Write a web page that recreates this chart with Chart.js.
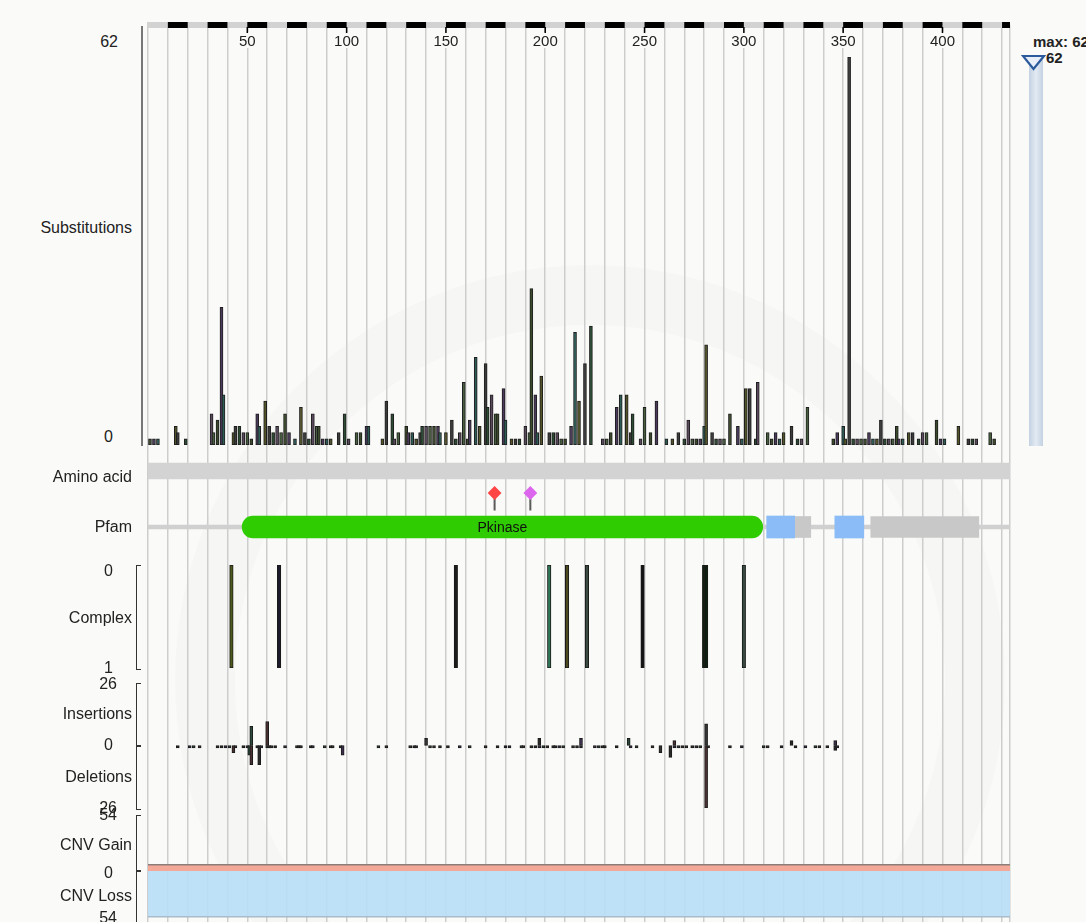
<!DOCTYPE html>
<html lang="en">
<head>
<meta charset="UTF-8">
<title>Mutation distribution</title>
<script src="https://cdn.jsdelivr.net/npm/chart.js"></script>
<style>
    body { margin: 0; width: 1086px; height: 922px; overflow: hidden; position: relative;
           background: #fafaf8; font-family: "Liberation Sans", Arial, sans-serif; color: #222; }
    canvas, .lbl, .brk, .tick, .slider, .maxlbl, .mark { position: absolute; }
    .lbl { width: 140px; text-align: right; font-size: 16px; line-height: 16px; white-space: nowrap; }
    .brk { border: 1.5px solid #333; border-right: none; width: 4px; }
    .tick { height: 1.5px; width: 5px; background: #333; }
    .slider { left: 1029px; top: 60px; width: 14px; height: 386px;
              background: linear-gradient(to right, #c3d1e1, #e2eaf3 50%, #c3d1e1); }
    .maxlbl { font-size: 15px; font-weight: bold; white-space: nowrap; line-height: 17px; }
    .mark { left: 175px; top: 265px; width: 710px; height: 710px; border-radius: 50%;
            border: 60px solid rgba(0,0,0,0.016); }
</style>
</head>
<body>
<div class="mark"></div>
<div class="slider"></div>
<svg style="position:absolute;left:1021px;top:54px" width="26" height="18">
    <polygon points="2,2 23,2 12.5,15" fill="#e8eff8" stroke="#2b5b9c" stroke-width="2.2"/>
</svg>
<div class="maxlbl" style="left:1033px;top:33px">max: 62</div>
<div class="maxlbl" style="left:1046px;top:49px">62</div>

<script>
// protein length (residues) and ruler labels
const PROTEIN_LENGTH = 434;
const rulerTicks = [50, 100, 150, 200, 250, 300, 350, 400];

// substitutions per residue
const subPos = [
    1, 3, 5, 14, 15, 19, 32, 33, 35, 37,
    38, 43, 44, 46, 48, 50, 52, 55, 56, 59,
    61, 63, 65, 67, 69, 71, 74, 77, 79, 81,
    83, 85, 86, 88, 90, 92, 96, 99, 101, 105,
    107, 110, 111, 118, 120, 123, 124, 126, 130, 131,
    133, 135, 137, 138, 140, 142, 144, 146, 147, 150,
    153, 155, 157, 159, 161, 162, 165, 167, 170, 171,
    173, 175, 176, 179, 180, 183, 185, 187, 190, 192,
    193, 195, 196, 198, 202, 204, 206, 208, 210, 213,
    215, 217, 220, 223, 229, 231, 233, 236, 238, 241,
    243, 244, 248, 250, 253, 256, 261, 264, 267, 270,
    272, 274, 276, 278, 280, 281, 284, 286, 288, 290,
    293, 297, 299, 301, 303, 306, 307, 312, 314, 316,
    318, 320, 324, 327, 329, 332, 345, 347, 350, 351,
    353, 355, 357, 359, 361, 363, 365, 367, 369, 371,
    373, 375, 377, 378, 380, 383, 385, 388, 390, 392,
    397, 399, 401, 408, 413, 415, 417, 424, 426
];
const subCount = [
    1, 1, 1, 3, 2, 1, 5, 2, 4, 22,
    8, 2, 3, 3, 2, 2, 1, 5, 3, 7,
    3, 2, 3, 2, 5, 2, 1, 6, 2, 1,
    5, 3, 3, 1, 1, 1, 2, 5, 1, 2,
    2, 3, 3, 1, 7, 5, 1, 2, 3, 2,
    2, 1, 2, 3, 3, 3, 3, 3, 2, 2,
    4, 1, 2, 10, 1, 4, 14, 3, 13, 6,
    8, 5, 5, 9, 4, 1, 1, 1, 3, 2,
    25, 8, 2, 11, 2, 2, 2, 1, 1, 3,
    18, 7, 13, 19, 1, 1, 2, 6, 8, 8,
    2, 5, 1, 6, 2, 7, 1, 1, 2, 1,
    4, 1, 1, 1, 3, 16, 2, 1, 1, 1,
    5, 3, 1, 9, 9, 1, 10, 2, 1, 2,
    1, 2, 3, 1, 1, 6, 1, 2, 3, 1,
    62, 1, 1, 1, 1, 2, 1, 1, 4, 1,
    1, 1, 3, 1, 1, 2, 2, 1, 2, 2,
    4, 1, 1, 3, 1, 1, 1, 2, 1
];
const SUB_MAX = 62;

// complex mutations
const complexPos = [42, 66, 155, 202, 211, 221, 249, 280, 281, 300];

// insertions / deletions
const indelPos = [
    15, 21, 23, 26, 35, 37, 39, 41, 43, 44,
    48, 50, 51, 52, 55, 56, 57, 60, 61, 62,
    64, 69, 75, 76, 77, 82, 83, 89, 92, 93,
    97, 98, 116, 120, 132, 134, 135, 140, 142, 144,
    147, 151, 157, 162, 170, 176, 180, 182, 188, 189,
    193, 195, 197, 199, 201, 204, 205, 207, 209, 214,
    216, 218, 225, 227, 229, 230, 236, 242, 243, 246,
    254, 258, 263, 265, 267, 269, 271, 274, 276, 278,
    281, 282, 293, 299, 310, 312, 319, 324, 326, 331,
    336, 338, 342, 346, 347
];
const insCount = [
    0, 0, 0, 0, 0, 0, 0, 0, 0, 0,
    0, 0, 0, 8, 0, 0, 0, 10, 0, 0,
    0, 0, 0, 0, 0, 0, 0, 0, 0, 0,
    0, 0, 0, 0, 0, 0, 0, 3, 0, 0,
    0, 0, 0, 0, 0, 0, 0, 0, 0, 0,
    0, 0, 3, 0, 0, 0, 0, 0, 0, 0,
    0, 3, 0, 0, 0, 0, 0, 3, 0, 0,
    0, 0, 0, 2, 0, 0, 0, 0, 0, 0,
    9, 0, 0, 0, 0, 0, 0, 2, 0, 0,
    0, 0, 0, 2, 0
];
const delCount = [
    1, 1, 1, 1, 1, 1, 1, 1, 3, 1,
    1, 1, 4, 8, 1, 8, 1, 1, 1, 1,
    1, 1, 1, 1, 1, 1, 1, 1, 1, 1,
    1, 4, 1, 1, 1, 1, 1, 0, 1, 1,
    1, 1, 1, 1, 1, 1, 1, 1, 1, 1,
    1, 1, 1, 1, 1, 1, 1, 1, 1, 1,
    1, 1, 1, 1, 1, 1, 1, 0, 1, 1,
    1, 3, 5, 1, 1, 1, 1, 1, 1, 1,
    26, 1, 1, 1, 1, 1, 1, 0, 1, 1,
    1, 1, 1, 2, 1
];
const INDEL_MAX = 26;

// copy number
const cnvGain = 6;
const cnvLoss = 44;
const CNV_MAX = 54;

// protein features
const domainName = ['Pkinase', '', '', '', ''];
const domainType = ['pfam', 'region', 'other', 'region', 'other'];
const domainStart = [47.4, 311.5, 325.6, 345.8, 363.9];
const domainEnd = [309.5, 325.6, 333.7, 360.4, 418.3];
const markerPos = [174.5, 192.5];
const markerType = ['active', 'binding'];

// ---- styles ----
const SUB_COLORS = ['#3c4a2c', '#4b3a5c', '#2e5d58', '#54542a', '#3b3b3b', '#2c4c34', '#5b4a5e', '#475f3e'];
const COMPLEX_COLORS = ['#4d5a1e', '#1c1c2e', '#1a1a1a', '#2e7556', '#4a4a1e', '#3a4a40', '#151515', '#0f2010', '#0f2010', '#34493f'];
const INDEL_COLORS = ['#2a2a2a', '#3d2f4f', '#2c4a3a', '#4a3030', '#333333'];
const DOMAIN_COLORS = { pfam: '#2ecc00', region: '#8bbcf8', other: '#c8c8c8' };
const MARKER_COLORS = { active: '#ff4545', binding: '#dd66ee' };

const LEFT = 140, WIDTH = 880;
const PAD = { left: 8, right: 10 };

function makeCanvas(top, height) {
    const c = document.createElement('canvas');
    c.width = WIDTH; c.height = height;
    c.style.left = LEFT + 'px'; c.style.top = top + 'px';
    c.style.width = WIDTH + 'px'; c.style.height = height + 'px';
    document.body.appendChild(c);
    return c;
}

function baseOptions(yScale, padTop, padBottom) {
    return {
        responsive: false, animation: false, devicePixelRatio: 1,
        layout: { padding: { left: PAD.left, right: PAD.right, top: padTop, bottom: padBottom } },
        plugins: { legend: { display: false }, tooltip: { enabled: false } },
        scales: {
            x: { type: 'linear', min: 0, max: PROTEIN_LENGTH, display: false, offset: false },
            y: Object.assign({ offset: false }, yScale)
        }
    };
}

// ---- background: grid + ruler ----
const gridTicks = [];
for (let v = 0; v <= PROTEIN_LENGTH; v += 10) gridTicks.push(v);
gridTicks.push(PROTEIN_LENGTH);

const rulerPlugin = {
    id: 'ruler',
    afterDraw(chart) {
        const { ctx, chartArea } = chart;
        const x = chart.scales.x;
        const top = chartArea.top - 3;
        ctx.save();
        ctx.fillStyle = '#d2d2d2';
        ctx.fillRect(x.left - 1, top, x.right - x.left + 1, 6);
        ctx.fillStyle = '#000';
        for (let s = 10; s < PROTEIN_LENGTH; s += 20) {
            const a = x.getPixelForValue(s), b = x.getPixelForValue(Math.min(s + 10, PROTEIN_LENGTH));
            ctx.fillRect(a, top, b - a, 6);
        }
        ctx.font = '15px "Liberation Sans", Arial, sans-serif';
        ctx.textAlign = 'center';
        ctx.textBaseline = 'middle';
        rulerTicks.forEach(v => {
            const px = x.getPixelForValue(v);
            ctx.fillStyle = '#fafaf8';
            ctx.fillRect(px - 15, top + 10, 30, 16);
            ctx.fillStyle = '#000';
            ctx.fillRect(px - 0.75, top + 5, 1.5, 6);
            ctx.fillStyle = '#222';
            ctx.fillText(String(v), px, top + 20);
        });
        ctx.restore();
    }
};

new Chart(makeCanvas(12, 910), {
    type: 'scatter',
    data: { datasets: [{ data: [] }] },
    options: {
        responsive: false, animation: false, devicePixelRatio: 1,
        layout: { padding: { left: PAD.left, right: PAD.right, top: 13, bottom: 0 } },
        plugins: { legend: { display: false }, tooltip: { enabled: false } },
        scales: {
            x: {
                type: 'linear', min: 0, max: PROTEIN_LENGTH, position: 'bottom', offset: false,
                afterBuildTicks: axis => { axis.ticks = gridTicks.map(v => ({ value: v })); },
                ticks: { display: false },
                grid: { color: '#cdcdcd', lineWidth: 1.5, drawTicks: false },
                border: { display: false }
            },
            y: { display: false, min: 0, max: 1 }
        }
    },
    plugins: [rulerPlugin]
});

// ---- substitutions ----
new Chart(makeCanvas(50, 396), {
    type: 'bar',
    data: {
        datasets: [{
            data: subPos.map((p, i) => ({ x: p, y: subCount[i] })),
            backgroundColor: subPos.map((p, i) => SUB_COLORS[i % SUB_COLORS.length]),
            borderColor: '#1e1e1e', borderWidth: 1, borderSkipped: false,
            barThickness: 3, grouped: false
        }]
    },
    options: baseOptions({ display: false, min: 0, max: SUB_MAX }, 7, 1)
});

// ---- amino acid band + pfam domains ----
const ROW_AA = 16, ROW_PFAM = 72;
const domainData = type => domainStart
    .map((s, i) => ({ x: [s, domainEnd[i]], y: ROW_PFAM, t: domainType[i] }))
    .filter(d => d.t === type);

const domainLabelPlugin = {
    id: 'domainLabels',
    afterDatasetsDraw(chart) {
        const { ctx } = chart;
        const x = chart.scales.x, y = chart.scales.y;
        ctx.save();
        ctx.font = '14px "Liberation Sans", Arial, sans-serif';
        ctx.fillStyle = '#111';
        ctx.textAlign = 'center';
        ctx.textBaseline = 'middle';
        domainName.forEach((n, i) => {
            if (!n) return;
            ctx.fillText(n, x.getPixelForValue((domainStart[i] + domainEnd[i]) / 2), y.getPixelForValue(ROW_PFAM) + 1);
        });
        ctx.restore();
    }
};

// first dataset is drawn on top
new Chart(makeCanvas(455, 90), {
    type: 'bar',
    data: {
        datasets: [
            { data: domainData('pfam'), backgroundColor: DOMAIN_COLORS.pfam, barThickness: 22, grouped: false,
              borderRadius: 11, borderSkipped: false },
            { data: domainData('region'), backgroundColor: DOMAIN_COLORS.region, barThickness: 22, grouped: false },
            { data: domainData('other'), backgroundColor: DOMAIN_COLORS.other, barThickness: 21, grouped: false },
            { data: [{ x: [0, PROTEIN_LENGTH], y: ROW_PFAM }], backgroundColor: '#d0d0d0', barThickness: 4, grouped: false },
            { data: [{ x: [0, PROTEIN_LENGTH], y: ROW_AA }], backgroundColor: '#d3d3d3', barThickness: 16, grouped: false }
        ]
    },
    options: Object.assign(baseOptions({ type: 'linear', display: false, min: 0, max: 90, reverse: true }, 0, 0),
                           { indexAxis: 'y' }),
    plugins: [domainLabelPlugin]
});

// ---- site markers ----
new Chart(makeCanvas(485, 33), {
    type: 'scatter',
    data: {
        datasets: markerPos.map((p, i) => ({
            data: [{ x: p, y: 0 }, { x: p, y: 1 }],
            showLine: true, borderColor: '#5a5a5a', borderWidth: 2,
            pointRadius: [0, 5.5], pointStyle: 'rectRot',
            pointBackgroundColor: MARKER_COLORS[markerType[i]],
            pointBorderColor: MARKER_COLORS[markerType[i]], clip: false
        }))
    },
    options: baseOptions({ display: false, min: 0, max: 1 }, 8, 1)
});

// ---- complex ----
new Chart(makeCanvas(563, 107), {
    type: 'bar',
    data: {
        datasets: [{
            data: complexPos.map(p => ({ x: p, y: 1 })),
            backgroundColor: complexPos.map((p, i) => COMPLEX_COLORS[i % COMPLEX_COLORS.length]),
            borderColor: '#1a1a1a', borderWidth: 1, borderSkipped: false,
            barThickness: 3.5, grouped: false
        }]
    },
    options: baseOptions({ display: false, min: 0, max: 1 }, 2, 2)
});

// ---- insertions / deletions ----
const insData = indelPos.map((p, i) => ({ x: p, y: insCount[i] })).filter(d => d.y > 0);
const delData = indelPos.map((p, i) => ({ x: p, y: -delCount[i] })).filter(d => d.y < 0);
new Chart(makeCanvas(680, 131), {
    type: 'bar',
    data: {
        datasets: [
            { data: insData, backgroundColor: insData.map((d, i) => INDEL_COLORS[(i + 2) % INDEL_COLORS.length]),
              borderColor: '#1a1a1a', borderWidth: 1, borderSkipped: false, barThickness: 3, grouped: false },
            { data: delData, backgroundColor: delData.map((d, i) => INDEL_COLORS[i % INDEL_COLORS.length]),
              borderColor: '#1a1a1a', borderWidth: 1, borderSkipped: false, barThickness: 3, grouped: false }
        ]
    },
    options: baseOptions({ display: false, min: -INDEL_MAX, max: INDEL_MAX }, 3, 3)
});

// ---- CNV ----
new Chart(makeCanvas(812, 115), {
    type: 'line',
    data: {
        datasets: [
            { data: [{ x: 0, y: cnvGain }, { x: PROTEIN_LENGTH, y: cnvGain }], fill: 'origin',
              backgroundColor: '#f3a898', borderColor: '#8d7d7a', borderWidth: 1.5, pointRadius: 0 },
            { data: [{ x: 0, y: -cnvLoss }, { x: PROTEIN_LENGTH, y: -cnvLoss }], fill: 'origin',
              backgroundColor: 'rgba(184,222,246,0.92)', borderColor: '#a9bccb', borderWidth: 1.5, pointRadius: 0 }
        ]
    },
    options: baseOptions({ display: false, min: -CNV_MAX, max: CNV_MAX }, 3, 0)
});

// ---- side labels and axis brackets ----
const sideLabels = [
    ['62', 118, 42], ['Substitutions', 132, 228], ['0', 113, 437],
    ['Amino acid', 132, 477], ['Pfam', 132, 527],
    ['0', 113, 571], ['Complex', 132, 618], ['1', 113, 668],
    ['26', 117, 684], ['Insertions', 132, 714], ['0', 113, 745], ['Deletions', 132, 777], ['26', 117, 808],
    ['54', 117, 815], ['CNV Gain', 132, 845], ['0', 113, 873], ['CNV Loss', 132, 896], ['54', 117, 918]
];
sideLabels.forEach(([t, r, y]) => {
    const d = document.createElement('div');
    d.className = 'lbl';
    d.textContent = t;
    d.style.left = (r - 140) + 'px';
    d.style.top = (y - 8) + 'px';
    document.body.appendChild(d);
});

const brackets = [[565, 668, []], [683, 808, [745]], [815, 922, [870]]];
brackets.forEach(([a, b, mids]) => {
    const d = document.createElement('div');
    d.className = 'brk';
    d.style.left = '136px'; d.style.top = a + 'px'; d.style.height = (b - a) + 'px';
    document.body.appendChild(d);
    mids.forEach(m => {
        const t = document.createElement('div');
        t.className = 'tick';
        t.style.left = '136px'; t.style.top = m + 'px';
        document.body.appendChild(t);
    });
});
const subAxis = document.createElement('div');
subAxis.style.cssText = 'position:absolute;left:141px;top:26px;width:1.5px;height:420px;background:#777';
document.body.appendChild(subAxis);
</script>
</body>
</html>
